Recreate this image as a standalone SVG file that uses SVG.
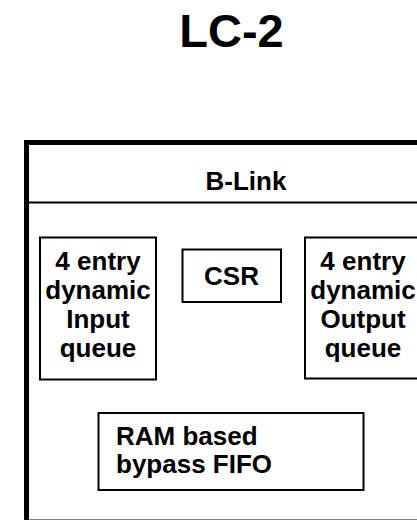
<svg xmlns="http://www.w3.org/2000/svg" width="417" height="520" viewBox="0 0 417 520">
<style>
text{font-family:"Liberation Sans",Arial,sans-serif;font-weight:bold;fill:#000}
.t{font-size:26px}
.box{fill:#fff;stroke:#000;stroke-width:2}
</style>
<rect width="417" height="520" fill="#fff"/>
<text x="231.5" y="47" font-size="47" text-anchor="middle">LC-2</text>
<g id="lc2-frame">
<rect x="26.5" y="142.5" width="460" height="379.5" fill="none" stroke="#000" stroke-width="5"/>
</g>
<g id="blink">
<line x1="29" y1="202.5" x2="417" y2="202.5" stroke="#000" stroke-width="2"/>
<text class="t" x="246" y="190" text-anchor="middle">B-Link</text>
</g>
<g id="connectors"></g>
<g id="input-queue">
<rect class="box" x="40" y="237.5" width="116" height="142"/>
<text class="t" text-anchor="middle"><tspan x="98" y="270">4 entry</tspan><tspan x="98" y="299">dynamic</tspan><tspan x="98" y="328">Input</tspan><tspan x="98" y="357">queue</tspan></text>
</g>
<g id="csr">
<rect class="box" x="182.5" y="249.5" width="98.5" height="52.5"/>
<text class="t" x="231.5" y="285" text-anchor="middle">CSR</text>
</g>
<g id="output-queue">
<rect class="box" x="305" y="237.5" width="116" height="141"/>
<text class="t" text-anchor="middle"><tspan x="363" y="270">4 entry</tspan><tspan x="363" y="299">dynamic</tspan><tspan x="363" y="328">Output</tspan><tspan x="363" y="357">queue</tspan></text>
</g>
<g id="bypass-fifo">
<rect class="box" x="98.5" y="413" width="265" height="77"/>
<text class="t"><tspan x="116" y="445">RAM based</tspan><tspan x="116" y="473">bypass FIFO</tspan></text>
</g>
</svg>
